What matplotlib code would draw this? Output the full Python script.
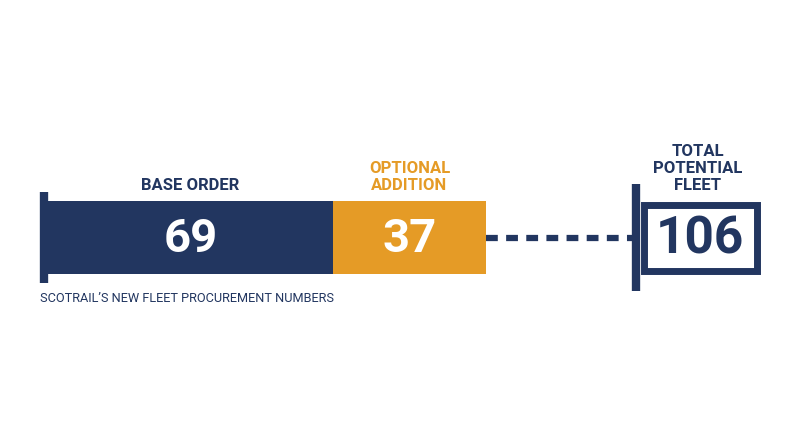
import matplotlib.pyplot as plt
from matplotlib.patches import Rectangle

plt.rcParams["font.family"] = ["Roboto", "DejaVu Sans"]
plt.rcParams["lines.scale_dashes"] = False

segments = ["BASE ORDER", "OPTIONAL\nADDITION"]
values = [69, 37]
seg_colors = ["#223660", "#E59B26"]
total_label = "TOTAL\nPOTENTIAL\nFLEET"
subtitle = "SCOTRAIL\u2019S NEW FLEET PROCUREMENT NUMBERS"

navy = "#223660"
px = 438 / sum(values)  # pixels per unit

fig = plt.figure(figsize=(8, 4.47), dpi=100)
ax = fig.add_axes([0, 0, 1, 1])
ax.set_xlim(-48 / px, (800 - 48) / px)
ax.set_ylim(447, 0)
ax.axis("off")

yc, h = 237.5, 73

# stacked bar
left = 0
for name, v, c in zip(segments, values, seg_colors):
    ax.barh(yc, v, left=left, height=h, color=c, edgecolor="none")
    ax.text(left + v / 2, yc + 2, str(v), ha="center", va="center",
            color="white", fontsize=34, fontweight="bold")
    ax.text(left + v / 2, yc - h / 2 - 8, name, ha="center", va="bottom",
            color=c, fontsize=12, fontweight="bold", linespacing=1.15)
    left += v
total = left

# left post
ax.plot([-4 / px, -4 / px], [192, 283], color=navy, lw=6, solid_capstyle="butt")

# dashed connector
post_x = total + 150 / px
ax.plot([total, post_x], [yc, yc], color=navy, lw=4.5, dashes=(8.5, 6),
        dash_capstyle="butt")

# right post and box
ax.plot([post_x, post_x], [184, 291], color=navy, lw=6, solid_capstyle="butt")
bx0, bx1 = post_x + 4 / px, post_x + 124 / px
ax.add_patch(Rectangle((bx0 + 3.5 / px, yc - h / 2 + 3.5), (bx1 - bx0) - 7 / px, h - 7,
                       fill=False, edgecolor=navy, lw=5, joinstyle="miter"))
ax.text((bx0 + bx1) / 2, yc + 2, str(total), ha="center", va="center",
        color=navy, fontsize=37, fontweight="bold")
ax.text((post_x + bx1) / 2, 193, total_label, ha="center", va="bottom",
        color=navy, fontsize=12, fontweight="bold", linespacing=1.15)

ax.text(-8 / px, 298, subtitle, ha="left", va="center", color=navy, fontsize=9.2)

fig.savefig("out.png", dpi=100, facecolor="white")
